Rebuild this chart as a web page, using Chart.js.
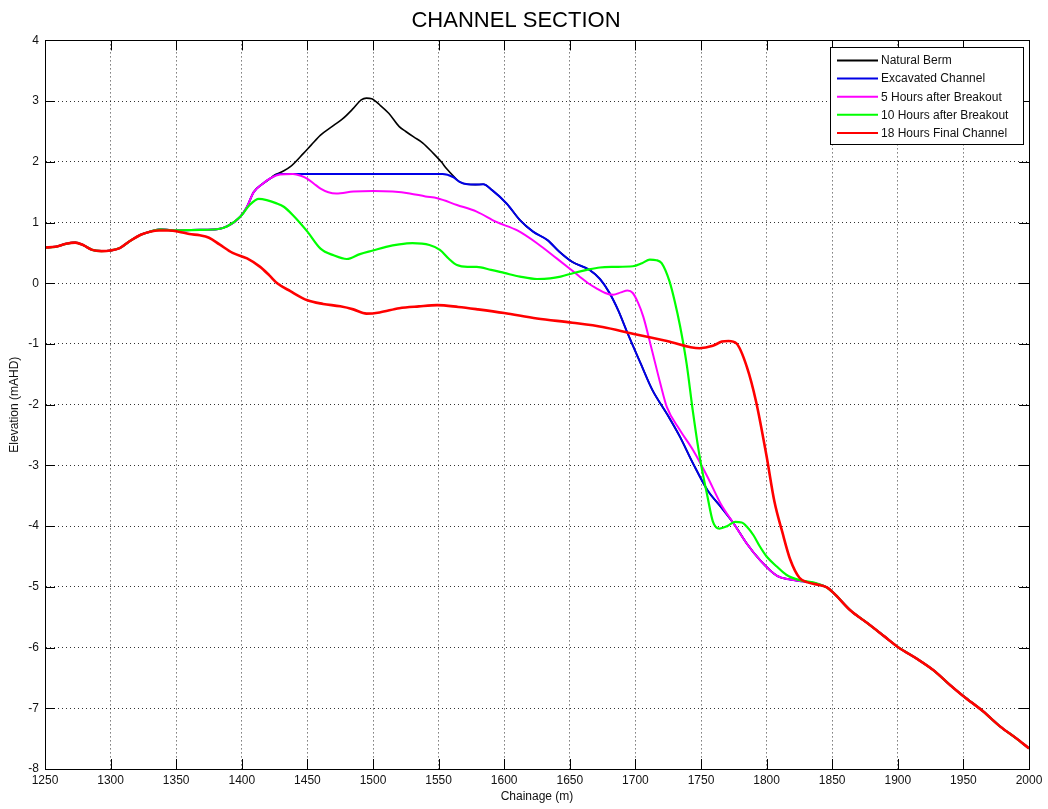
<!DOCTYPE html>
<html>
<head>
<meta charset="utf-8">
<title>Channel Section</title>
<script src="https://cdn.jsdelivr.net/npm/chart.js@4.4.1/dist/chart.umd.min.js"></script>
<style>
  html, body { margin: 0; padding: 0; background: #fff; }
  #wrap { width: 1048px; height: 809px; }
</style>
</head>
<body>
<div id="wrap"><canvas id="chart" width="1048" height="809"></canvas></div>
<script>
// Axis ticks
const chainageTicks = [1250, 1300, 1350, 1400, 1450, 1500, 1550, 1600, 1650, 1700, 1750, 1800, 1850, 1900, 1950, 2000];
const elevationTicks = [-8, -7, -6, -5, -4, -3, -2, -1, 0, 1, 2, 3, 4];

// Upstream reach common to every survey (chainage m, elevation mAHD)
const headX = [1250, 1258, 1266, 1273, 1279, 1286, 1293, 1300, 1307, 1315, 1323, 1330];
const headY = [0.59, 0.60, 0.65, 0.67, 0.63, 0.55, 0.53, 0.54, 0.58, 0.70, 0.80, 0.85];

// Low berm shoulder shared by berm, excavated and 5/10 hour profiles
const shoulderX = [1338, 1348, 1358, 1368, 1381, 1389, 1399];
const shoulderY = [0.89, 0.87, 0.875, 0.88, 0.89, 0.94, 1.10];

// Rise onto the berm shared by berm, excavated and 5 hour profiles
const riseX = [1404, 1409, 1416, 1422];
const riseY = [1.26, 1.50, 1.64, 1.73];

// Natural berm crest
const bermX = [1424, 1431, 1437, 1447, 1453, 1460, 1470, 1477, 1485, 1491, 1495, 1499, 1505, 1512, 1520, 1525, 1531, 1538, 1546, 1552, 1556, 1562];
const bermY = [1.77, 1.84, 1.92, 2.14, 2.28, 2.44, 2.60, 2.71, 2.88, 3.02, 3.05, 3.04, 2.94, 2.80, 2.58, 2.50, 2.41, 2.31, 2.14, 2.00, 1.89, 1.75];

// Excavated channel bed
const excavatedX = [1425, 1429, 1440, 1480, 1520, 1553, 1561];
const excavatedY = [1.77, 1.80, 1.80, 1.80, 1.80, 1.80, 1.75];

// Downstream face of the berm / excavated channel
const faceX = [1566, 1572, 1578, 1584, 1591, 1602, 1612, 1622, 1633, 1642, 1652, 1665, 1673, 1680, 1687, 1694, 1704, 1713, 1724, 1734, 1744, 1755, 1765];
const faceY = [1.67, 1.63, 1.625, 1.63, 1.53, 1.31, 1.04, 0.85, 0.71, 0.52, 0.35, 0.22, 0.07, -0.15, -0.45, -0.82, -1.32, -1.76, -2.15, -2.53, -2.97, -3.41, -3.68];

// 5 hours after breakout
const fiveHourX = [1429, 1439, 1445, 1450, 1455, 1460, 1466, 1472, 1485, 1500, 1515, 1528, 1540, 1549, 1564, 1579, 1594, 1610, 1625, 1640, 1650, 1658, 1664, 1670, 1677, 1683, 1689, 1694, 1698, 1702, 1706, 1712, 1719, 1724, 1734, 1744, 1755, 1765];
const fiveHourY = [1.79, 1.80, 1.77, 1.72, 1.64, 1.56, 1.50, 1.48, 1.51, 1.52, 1.51, 1.48, 1.43, 1.40, 1.29, 1.18, 1.01, 0.87, 0.66, 0.41, 0.24, 0.10, 0.00, -0.08, -0.16, -0.19, -0.15, -0.12, -0.16, -0.32, -0.55, -1.05, -1.65, -2.04, -2.42, -2.75, -3.19, -3.63];

// Lower slope shared by the excavated and 5 hour profiles
const slopeX = [1775, 1785, 1795, 1808, 1818, 1828, 1838, 1846];
const slopeY = [-3.96, -4.29, -4.56, -4.82, -4.88, -4.91, -4.95, -5.01];

// 10 hours after breakout
const tenHourX = [1406, 1413, 1419, 1426, 1432, 1439, 1450, 1460, 1470, 1480, 1490, 1500, 1510, 1520, 1530, 1543, 1551, 1558, 1564, 1572, 1579, 1590, 1600, 1612, 1625, 1635, 1643, 1653, 1663, 1673, 1683, 1698, 1705, 1711, 1716, 1720, 1726, 1730, 1734, 1739, 1744, 1749, 1755, 1759, 1764, 1770, 1776, 1781, 1785, 1790, 1795, 1800, 1808, 1815, 1825, 1838, 1846];
const tenHourY = [1.29, 1.39, 1.37, 1.32, 1.26, 1.12, 0.85, 0.57, 0.46, 0.40, 0.48, 0.54, 0.60, 0.64, 0.66, 0.63, 0.55, 0.40, 0.30, 0.27, 0.27, 0.22, 0.17, 0.11, 0.07, 0.08, 0.11, 0.17, 0.22, 0.26, 0.27, 0.28, 0.33, 0.39, 0.38, 0.33, 0.03, -0.30, -0.70, -1.32, -2.14, -2.86, -3.52, -3.92, -4.04, -4.00, -3.93, -3.94, -4.01, -4.15, -4.34, -4.50, -4.67, -4.80, -4.89, -4.94, -5.01];

// 18 hours final channel
const finalX = [1337, 1345, 1352, 1360, 1368, 1375, 1383, 1393, 1404, 1414, 1421, 1427, 1437, 1450, 1462, 1475, 1485, 1495, 1505, 1520, 1535, 1549, 1565, 1580, 1600, 1625, 1652, 1675, 1698, 1724, 1749, 1759, 1766, 1771, 1777, 1785, 1792, 1800, 1806, 1812, 1818, 1825, 1832, 1840, 1846];
const finalY = [0.87, 0.87, 0.85, 0.81, 0.79, 0.75, 0.64, 0.50, 0.41, 0.27, 0.13, 0.00, -0.13, -0.28, -0.34, -0.38, -0.43, -0.50, -0.48, -0.41, -0.38, -0.36, -0.39, -0.43, -0.49, -0.58, -0.65, -0.72, -0.83, -0.95, -1.07, -1.03, -0.96, -0.95, -0.99, -1.38, -1.95, -2.85, -3.60, -4.10, -4.55, -4.85, -4.93, -4.97, -5.01];

// Downstream reach common to every survey
const toeX = [1851, 1864, 1877, 1890, 1900, 1915, 1927, 1940, 1950, 1965, 1978, 1990, 2000];
const toeY = [-5.10, -5.39, -5.60, -5.82, -5.99, -6.19, -6.37, -6.62, -6.80, -7.05, -7.30, -7.49, -7.66];

const seriesNames = ['Natural Berm', 'Excavated Channel', '5 Hours after Breakout', '10 Hours after Breakout', '18 Hours Final Channel'];
const seriesColors = ['#000000', '#0000e6', '#ff00ff', '#00ff00', '#ff0000'];

function points(xParts, yParts) {
  const xs = [].concat(...xParts);
  const ys = [].concat(...yParts);
  return xs.map((x, i) => ({ x: x, y: ys[i] }));
}

const profiles = [
  points([headX, shoulderX, riseX, bermX, faceX, slopeX, toeX], [headY, shoulderY, riseY, bermY, faceY, slopeY, toeY]),
  points([headX, shoulderX, riseX, excavatedX.slice(1), faceX, slopeX, toeX], [headY, shoulderY, riseY, excavatedY.slice(1), faceY, slopeY, toeY]),
  points([headX, shoulderX, riseX, fiveHourX, slopeX, toeX], [headY, shoulderY, riseY, fiveHourY, slopeY, toeY]),
  points([headX, shoulderX, tenHourX, toeX], [headY, shoulderY, tenHourY, toeY]),
  points([headX, finalX, toeX], [headY, finalY, toeY])
];

const FONT = "'Liberation Sans', Arial, sans-serif";
const widths = [1.6, 2, 2, 2.2, 2.6];

const datasets = profiles.map((pts, i) => ({
  label: seriesNames[i],
  data: pts,
  borderColor: seriesColors[i],
  backgroundColor: seriesColors[i],
  borderWidth: widths[i],
  pointRadius: 0,
  fill: false,
  cubicInterpolationMode: 'monotone',
  order: seriesNames.length - 1 - i
}));

// Box around the axes, inward tick marks and the legend
const framePlugin = {
  id: 'frame',
  afterDraw(chart) {
    const ctx = chart.ctx;
    const a = chart.chartArea;
    const xs = chart.scales.x, ys = chart.scales.y;
    const len = 10;
    ctx.save();
    ctx.strokeStyle = '#000';
    ctx.lineWidth = 1;
    ctx.beginPath();
    chainageTicks.forEach(v => {
      const px = Math.round(xs.getPixelForValue(v)) + 0.5;
      ctx.moveTo(px, a.bottom); ctx.lineTo(px, a.bottom - len);
      ctx.moveTo(px, a.top); ctx.lineTo(px, a.top + len);
    });
    elevationTicks.forEach(v => {
      const py = Math.round(ys.getPixelForValue(v)) + 0.5;
      ctx.moveTo(a.left, py); ctx.lineTo(a.left + len, py);
      ctx.moveTo(a.right, py); ctx.lineTo(a.right - len, py);
    });
    ctx.stroke();
    ctx.strokeRect(Math.round(a.left) + 0.5, Math.round(a.top) + 0.5, Math.round(a.right - a.left), Math.round(a.bottom - a.top));

    // legend
    const bx = 830.5, by = 47.5, bw = 193, bh = 97;
    ctx.fillStyle = '#fff';
    ctx.fillRect(bx, by, bw, bh);
    ctx.strokeRect(bx, by, bw, bh);
    ctx.font = '12px ' + FONT;
    ctx.textBaseline = 'middle';
    ctx.textAlign = 'left';
    chart.data.datasets.forEach((ds, i) => {
      const y = 60.5 + i * 18.1;
      ctx.strokeStyle = ds.borderColor;
      ctx.lineWidth = 2;
      ctx.beginPath();
      ctx.moveTo(837, y); ctx.lineTo(878, y);
      ctx.stroke();
      ctx.fillStyle = '#111';
      ctx.fillText(ds.label, 881, y + 0.5);
    });
    ctx.restore();
  }
};

new Chart(document.getElementById('chart'), {
  type: 'line',
  data: { datasets: datasets },
  plugins: [framePlugin],
  options: {
    responsive: false,
    animation: false,
    layout: { padding: { left: 3, right: 19, top: 0, bottom: 0 } },
    plugins: {
      legend: { display: false },
      tooltip: { enabled: false },
      title: {
        display: true,
        text: 'CHANNEL SECTION',
        color: '#000',
        font: { family: FONT, size: 22, weight: 'normal' },
        padding: { top: 8, bottom: 6 }
      }
    },
    scales: {
      x: {
        type: 'linear',
        min: 1250,
        max: 2000,
        afterBuildTicks(scale) { scale.ticks = chainageTicks.map(v => ({ value: v })); },
        afterFit(scale) { scale.height = 40; },
        ticks: {
          padding: 4,
          color: '#111',
          maxRotation: 0,
          autoSkip: false,
          font: { family: FONT, size: 12 },
          callback: v => String(v)
        },
        grid: { color: 'rgba(0,0,0,0.8)', lineWidth: 1, drawTicks: false },
        border: { display: true, color: '#000', dash: [1, 3] },
        title: {
          display: true,
          text: 'Chainage (m)',
          color: '#111',
          font: { family: FONT, size: 12 },
          padding: { top: 0, bottom: 5 }
        }
      },
      y: {
        type: 'linear',
        min: -8,
        max: 4,
        afterBuildTicks(scale) { scale.ticks = elevationTicks.map(v => ({ value: v })); },
        afterFit(scale) { scale.width = 42; },
        ticks: {
          padding: 6,
          color: '#111',
          autoSkip: false,
          font: { family: FONT, size: 12 },
          callback: v => String(v)
        },
        grid: { color: 'rgba(0,0,0,0.8)', lineWidth: 1, drawTicks: false },
        border: { display: true, color: '#000', dash: [1, 3] },
        title: {
          display: true,
          text: 'Elevation (mAHD)',
          color: '#111',
          font: { family: FONT, size: 12 },
          padding: { top: 4, bottom: 0 }
        }
      }
    }
  }
});
</script>
</body>
</html>
